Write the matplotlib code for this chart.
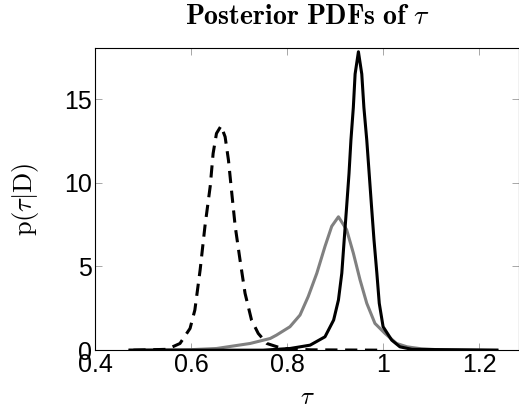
import numpy as np
import matplotlib
matplotlib.use("Agg")
import matplotlib.pyplot as plt

plt.rcParams['mathtext.fontset'] = 'cm'
plt.rcParams['font.family'] = ['Liberation Sans', 'DejaVu Sans']

# dashed black posterior
tau_dash = [0.48, 0.55, 0.577, 0.598, 0.608, 0.619, 0.629, 0.640, 0.646, 0.653,
            0.6625, 0.671, 0.678, 0.685, 0.692, 0.702, 0.7125, 0.726, 0.740, 0.758,
            0.790, 0.85, 1.0]
pdf_dash = [0.0, 0.05, 0.4, 1.3, 2.4, 4.8, 7.4, 9.8, 11.75, 12.95,
            13.4, 12.75, 11.35, 9.35, 7.4, 5.4, 3.4, 1.8, 1.0, 0.4,
            0.1, 0.02, 0.0]

# grey posterior
tau_grey = [0.473, 0.60, 0.653, 0.723, 0.765, 0.778, 0.806, 0.827, 0.844, 0.862,
            0.879, 0.893, 0.907, 0.924, 0.938, 0.952, 0.966, 0.983, 1.004, 1.028,
            1.05, 1.08, 1.12, 1.237]
pdf_grey = [0.0, 0.03, 0.1, 0.4, 0.7, 0.9, 1.4, 2.1, 3.2, 4.6,
            6.2, 7.4, 7.97, 7.2, 5.8, 4.2, 2.8, 1.6, 1.0, 0.4,
            0.2, 0.08, 0.02, 0.0]

# solid black posterior
tau_solid = [0.473, 0.75, 0.806, 0.848, 0.879, 0.897, 0.907, 0.914, 0.919, 0.924,
             0.929, 0.933, 0.938, 0.9417, 0.9486, 0.9556, 0.960, 0.966, 0.971, 0.976,
             0.981, 0.987, 0.992, 1.0, 1.018, 1.035, 1.06, 1.237]
pdf_solid = [0.0, 0.0, 0.1, 0.3, 0.8, 1.8, 3.0, 4.6, 6.6, 8.55,
             10.55, 12.55, 14.5, 16.5, 17.83, 16.5, 14.5, 12.55, 10.55, 8.55,
             6.6, 4.6, 2.8, 1.4, 0.6, 0.2, 0.05, 0.0]

xticks = [0.4, 0.6, 0.8, 1.0, 1.2]
xtick_labels = ['0.4', '0.6', '0.8', '1', '1.2']
yticks = [0, 5, 10, 15]

fig = plt.figure(figsize=(5.19, 4.11), dpi=100)
ax = fig.add_axes([0.183, 0.148, 0.817, 0.735])

ax.plot(tau_grey, pdf_grey, color='#808080', lw=2.2, solid_joinstyle='round')
ax.plot(tau_solid, pdf_solid, color='black', lw=2.2, solid_joinstyle='round')
ax.plot(tau_dash, pdf_dash, color='black', lw=2.2, dashes=(4, 2.5))

ax.set_xlim(0.4, 1.283)
ax.set_ylim(0, 18.05)
ax.set_xticks(xticks)
ax.set_xticklabels(xtick_labels)
ax.set_yticks(yticks)
ax.tick_params(direction='in', length=5, width=0.6, color='#999999',
               top=True, right=True, labelsize=18, pad=2)
for s in ax.spines.values():
    s.set_linewidth(0.8)

ax.set_title(r'$\mathbf{Posterior\ PDFs\ of}\ \tau$', fontsize=20, pad=17)
ax.set_xlabel(r'$\tau$', fontsize=18, labelpad=6)
ax.set_ylabel(r'$\mathrm{p}(\tau|\mathrm{D})$', fontsize=19, labelpad=17)

fig.savefig('out.png', dpi=100)
